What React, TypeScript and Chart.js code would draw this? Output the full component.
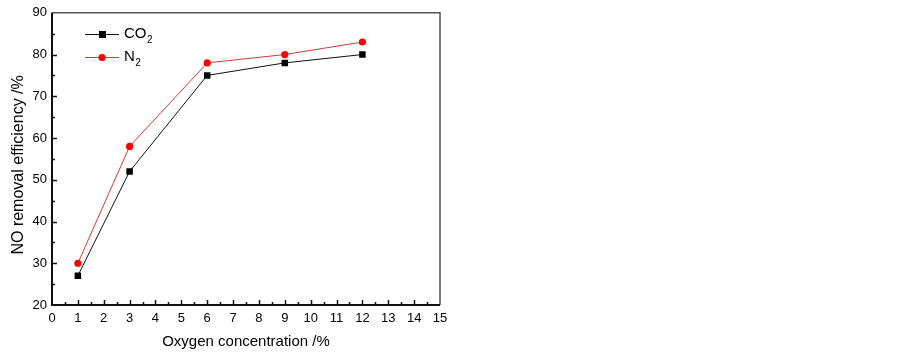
import React, { useEffect, useRef } from "react";
import { Chart, registerables } from "chart.js";

Chart.register(...registerables);

const oxygen = [1, 3, 6, 9, 12];
const co2Values = [27, 52, 75, 78, 80];
const n2Values = [30, 58, 78, 80, 83];
const seriesLabels = ["CO₂", "N₂"];
const xTitle = "Oxygen concentration /%";
const yTitle = "NO removal efficiency /%";

const FONT = "'Liberation Sans', Arial, sans-serif";

const framePlugin = {
  id: "frame",
  afterDraw(chart: any) {
    const { ctx, chartArea } = chart;
    const { left, right, top, bottom } = chartArea;
    const xs = chart.scales.x;
    const ys = chart.scales.y;
    ctx.save();
    // top & right border
    ctx.strokeStyle = "#555";
    ctx.lineWidth = 1.5;
    ctx.beginPath();
    ctx.moveTo(left, top);
    ctx.lineTo(right, top);
    ctx.lineTo(right, bottom);
    ctx.stroke();
    // axes
    ctx.strokeStyle = "#111";
    ctx.lineWidth = 2;
    ctx.beginPath();
    ctx.moveTo(left, top);
    ctx.lineTo(left, bottom);
    ctx.lineTo(right, bottom);
    ctx.stroke();
    // inward ticks
    ctx.lineWidth = 1.5;
    ctx.beginPath();
    for (let v = xs.min; v <= xs.max; v += 0.5) {
      const px = Math.round(xs.getPixelForValue(v)) + 0.5;
      const len = Number.isInteger(v) ? 5 : 3;
      if (v === xs.min || v === xs.max) continue;
      ctx.moveTo(px, bottom);
      ctx.lineTo(px, bottom - len);
    }
    for (let v = ys.min; v <= ys.max; v += 5) {
      const py = Math.round(ys.getPixelForValue(v)) + 0.5;
      const len = v % 10 === 0 ? 5 : 3;
      if (v === ys.min || v === ys.max) continue;
      ctx.moveTo(left, py);
      ctx.lineTo(left + len, py);
    }
    ctx.stroke();

    // y axis title
    ctx.save();
    ctx.translate(19, (top + bottom) / 2 + 6);
    ctx.rotate(-Math.PI / 2);
    ctx.fillStyle = "#000";
    ctx.font = `16px ${FONT}`;
    ctx.textAlign = "center";
    ctx.textBaseline = "middle";
    ctx.fillText(yTitle, 0, 0);
    ctx.restore();

    // legend
    const legendX = 85;
    const legendY = [34, 57];
    chart.data.datasets.forEach((ds: any, i: number) => {
      const y = legendY[i];
      ctx.strokeStyle = ds.borderColor;
      ctx.lineWidth = 1;
      ctx.beginPath();
      ctx.moveTo(legendX, y + 0.5);
      ctx.lineTo(legendX + 34, y + 0.5);
      ctx.stroke();
      ctx.fillStyle = ds.pointBackgroundColor;
      ctx.beginPath();
      if (ds.pointStyle === "rect") {
        ctx.rect(legendX + 17 - 3, y - 3, 7, 7);
      } else {
        ctx.arc(legendX + 17, y + 0.5, 3.6, 0, Math.PI * 2);
      }
      ctx.fill();
      // label with subscripts
      let tx = legendX + 39;
      ctx.fillStyle = "#000";
      ctx.textBaseline = "middle";
      ctx.textAlign = "left";
      for (const ch of ds.label as string) {
        const code = ch.charCodeAt(0);
        if (code >= 0x2080 && code <= 0x2089) {
          const d = String(code - 0x2080);
          ctx.font = `10px ${FONT}`;
          ctx.fillText(d, tx + 0.5, y + 6);
          tx += ctx.measureText(d).width + 0.5;
        } else {
          ctx.font = `15px ${FONT}`;
          ctx.fillText(ch, tx, y);
          tx += ctx.measureText(ch).width;
        }
      }
    });
    ctx.restore();
  },
};

export default function App() {
  const ref = useRef<HTMLCanvasElement>(null);
  useEffect(() => {
    const chart = new Chart(ref.current!, {
      type: "line",
      data: {
        datasets: [
          {
            label: seriesLabels[0],
            data: oxygen.map((x, i) => ({ x, y: co2Values[i] })),
            borderColor: "#111",
            borderWidth: 1,
            pointStyle: "rect",
            pointRadius: 4.6,
            pointBackgroundColor: "#000",
            pointBorderColor: "#000",
            pointBorderWidth: 0,
            tension: 0,
          },
          {
            label: seriesLabels[1],
            data: oxygen.map((x, i) => ({ x, y: n2Values[i] })),
            borderColor: "#d03a3a",
            borderWidth: 1,
            pointStyle: "circle",
            pointRadius: 3.6,
            pointBackgroundColor: "#ff0000",
            pointBorderColor: "#ff0000",
            pointBorderWidth: 0,
            tension: 0,
          },
        ],
      },
      options: {
        animation: false,
        responsive: false,
        devicePixelRatio: 1,
        layout: { padding: { top: 9, right: 463, left: 0, bottom: 0 } },
        plugins: { legend: { display: false }, tooltip: { enabled: false } },
        scales: {
          x: {
            type: "linear",
            min: 0,
            max: 15,
            grid: { display: false, drawTicks: false },
            border: { display: false },
            ticks: {
              stepSize: 1,
              color: "#000",
              font: { family: FONT, size: 13 },
              padding: 6,
              maxRotation: 0,
            },
            title: {
              display: true,
              text: xTitle,
              color: "#000",
              font: { family: FONT, size: 15 },
              padding: { top: 0, bottom: 1 },
            },
            afterFit: (s: any) => {
              s.height = 47;
            },
          },
          y: {
            type: "linear",
            min: 20,
            max: 90,
            grid: { display: false, drawTicks: false },
            border: { display: false },
            ticks: {
              stepSize: 10,
              color: "#000",
              font: { family: FONT, size: 13 },
              padding: 5,
            },
            title: { display: false, text: yTitle },
            afterFit: (s: any) => {
              s.width = 52;
            },
          },
        },
      },
      plugins: [framePlugin],
    });
    return () => chart.destroy();
  }, []);
  return (
    <div style={{ position: "fixed", left: 0, top: 0, width: 903, height: 352, background: "#fff" }}>
      <canvas ref={ref} width={903} height={352} style={{ width: 903, height: 352 }} />
    </div>
  );
}
